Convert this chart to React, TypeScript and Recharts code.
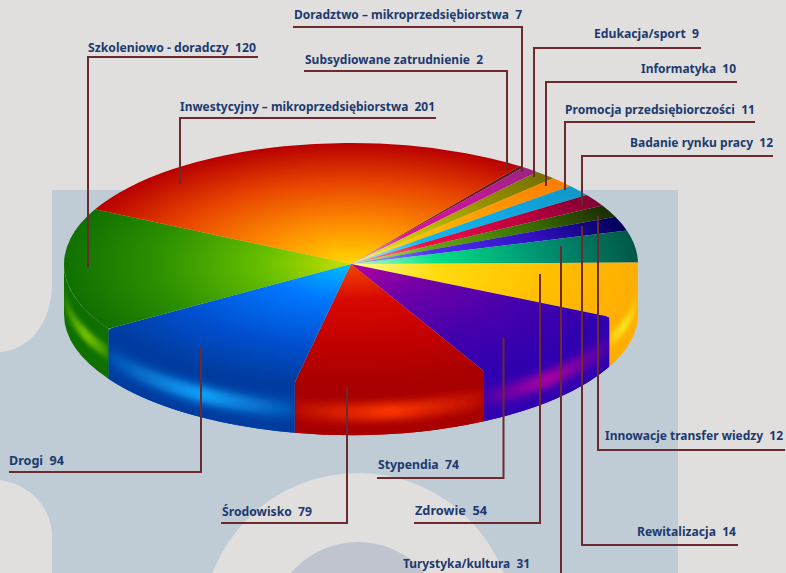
import React from 'react';
import { PieChart, Pie } from 'recharts';

const categories = [
  'Subsydiowane zatrudnienie',
  'Doradztwo – mikroprzedsiębiorstwa',
  'Edukacja/sport',
  'Informatyka',
  'Promocja przedsiębiorczości',
  'Badanie rynku pracy',
  'Innowacje transfer wiedzy',
  'Rewitalizacja',
  'Turystyka/kultura',
  'Zdrowie',
  'Stypendia',
  'Środowisko',
  'Drogi',
  'Szkoleniowo - doradczy',
  'Inwestycyjny – mikroprzedsiębiorstwa',
];
const values = [2, 7, 9, 10, 11, 12, 12, 14, 31, 54, 74, 79, 94, 120, 201];
const rows = categories.map((name, i) => ({ name, value: values[i] }));

// Radial colour stops of each slice, from the pie centre to the rim.
const faceColors: string[][] = [
  ['#a08060', '#803030', '#6a1c24', '#5a1820'],
  ['#f8c0e0', '#e010a0', '#c01898', '#9c2480'],
  ['#f0f080', '#c8c800', '#989000', '#747000'],
  ['#ffff80', '#ffc000', '#ff9800', '#ff7c00'],
  ['#c0f0ff', '#10b8f0', '#10a8e0', '#1098c8'],
  ['#ffb0a0', '#f01048', '#c00040', '#800034'],
  ['#d0f080', '#60a810', '#3c7000', '#1c2c00'],
  ['#b0b0ff', '#5030f0', '#3010c0', '#000058'],
  ['#c0ffd0', '#00e088', '#009070', '#005848'],
  ['#ffff90', '#ffdc10', '#ffc000', '#ffae00'],
  ['#b000a0', '#7000a8', '#4400ac', '#3000b0'],
  ['#f04800', '#d80800', '#c00000', '#a80000'],
  ['#00c0ff', '#0078ff', '#0050d0', '#003ca0'],
  ['#c8e000', '#68c000', '#2c9000', '#0f7000'],
  ['#ffd800', '#ff9400', '#e84400', '#b80000'],
];
const sideColors = ['#5a1820', '#9c2480', '#747000', '#ff7c00', '#1098c8', '#800034', '#1c2c00', '#000058', '#005848', '#ffae00', '#3400b0', '#c40000', '#0048c0', '#0f7000', '#b80000'];
const glowColors = ['', '', '', '', '', '', '', '', '', '#ffe820', '#b000a0', '#ff3800', '#10a8ff', '#78c400', ''];
const extruded = [false, false, false, false, false, false, false, false, false, false, true, true, true, false, false];

// Leader geometry: polyline points, text x, text right edge, baseline, font size.
const leaders: { pts: string; x: number; end: number; y: number; size: number }[] = [
  { pts: '304,71 507,71 507,169', x: 305, end: 483, y: 64, size: 12.8 },
  { pts: '293,27 522,27 522,172', x: 294, end: 522, y: 19, size: 12.8 },
  { pts: '701,48 534,48 534,177', x: 594, end: 699, y: 38, size: 12.8 },
  { pts: '737,82 546,82 546,186', x: 641, end: 736, y: 73, size: 12.8 },
  { pts: '755,122 565,122 565,190', x: 565, end: 755, y: 114, size: 12.8 },
  { pts: '773,156 582,156 582,205', x: 630, end: 773, y: 147, size: 12.8 },
  { pts: '785,450 598,450 598,216', x: 605, end: 783, y: 440, size: 12 },
  { pts: '738,545 582,545 582,226', x: 637, end: 736, y: 536, size: 12.8 },
  { pts: '561,573 561,246', x: 403, end: 530, y: 568, size: 12.8 },
  { pts: '414,523 540,523 540,274', x: 415, end: 487, y: 515, size: 12.8 },
  { pts: '377,478 503.5,478 503.5,338', x: 378, end: 459, y: 469, size: 12.8 },
  { pts: '221,523 347,523 347,387', x: 222, end: 312, y: 516, size: 12.8 },
  { pts: '9,472 201,472 201,347', x: 9, end: 64, y: 465, size: 12.8 },
  { pts: '258,57 88,57 88,267', x: 88, end: 256, y: 52, size: 12.8 },
  { pts: '436,118 180,118 180,184', x: 180, end: 435, y: 111, size: 12.8 },
];

const CX = 351;
const CY = 264;
const R = 287;
const K = 121 / 287;
const DEPTH = 50;

const pt = (deg: number, dy = 0): [number, number] => {
  const a = (deg * Math.PI) / 180;
  return [CX + R * Math.cos(a), CY - R * K * Math.sin(a) + dy];
};
const f = (p: [number, number]) => `${p[0].toFixed(2)} ${p[1].toFixed(2)}`;
const ry = R * K;

function arc(from: number, to: number, dy: number) {
  const large = Math.abs(from - to) > 180 ? 1 : 0;
  return `A ${R} ${ry} 0 ${large} 1 ${f(pt(to, dy))}`;
}
function arcBack(from: number, to: number, dy: number) {
  const large = Math.abs(from - to) > 180 ? 1 : 0;
  return `A ${R} ${ry} 0 ${large} 0 ${f(pt(to, dy))}`;
}
function ring(s: number, e: number, d0: number, d1: number) {
  return `M ${f(pt(s, d0))} ${arc(s, e, d0)} L ${f(pt(e, d1))} ${arcBack(e, s, d1)} Z`;
}

function Slice(props: any) {
  const i = categories.indexOf(props.name);
  const s: number = props.startAngle;
  const e: number = props.endAngle;
  const stops = faceColors[i];
  const vs = Math.min(s, 0);
  const ve = Math.max(e, -180);
  const hasSide = vs > ve;
  const gid = `face${i}`;
  const tr = `translate(${CX} ${CY}) scale(1 ${K}) translate(${-CX} ${-CY})`;
  const xs = hasSide ? [pt(vs)[0], pt(ve)[0]] : [0, 0];
  const x0 = Math.min(...xs);
  const x1 = Math.max(...xs);

  let facePath = `M ${CX} ${CY} L ${f(pt(s))} ${arc(s, e, 0)} Z`;
  if (extruded[i]) {
    const a = pt(s);
    const b = pt(e);
    const ra = 4;
    const dirA = [CX - a[0], CY - a[1]];
    const la = Math.hypot(dirA[0], dirA[1]);
    const dirB = [CX - b[0], CY - b[1]];
    const lb = Math.hypot(dirB[0], dirB[1]);
    facePath =
      `M ${CX} ${CY} L ${(a[0] + (dirA[0] / la) * ra).toFixed(2)} ${(a[1] + (dirA[1] / la) * ra).toFixed(2)} ` +
      `Q ${f(a)} ${a[0].toFixed(2)} ${(a[1] + ra).toFixed(2)} L ${f(pt(s, DEPTH))} ${arc(s, e, DEPTH)} ` +
      `L ${b[0].toFixed(2)} ${(b[1] + ra).toFixed(2)} Q ${f(b)} ${(b[0] + (dirB[0] / lb) * ra).toFixed(2)} ${(b[1] + (dirB[1] / lb) * ra).toFixed(2)} Z`;
  }
  const sidePath = hasSide ? ring(vs, ve, 0, DEPTH) : '';
  const edgeOpacity = extruded[i] ? 0.2 : 0.35;

  return (
    <g>
      <defs>
        <radialGradient id={gid} gradientUnits="userSpaceOnUse" cx={CX} cy={CY} r={R} gradientTransform={tr}>
          <stop offset="0" stopColor={stops[0]} />
          <stop offset="0.3" stopColor={stops[1]} />
          <stop offset="0.68" stopColor={stops[2]} />
          <stop offset="1" stopColor={stops[3]} />
        </radialGradient>
        {hasSide && (
          <clipPath id={`clip${i}`}>
            <path d={sidePath} />
          </clipPath>
        )}
        {hasSide && (
          <linearGradient id={`glow${i}`} gradientUnits="userSpaceOnUse" x1={x0} x2={x1} y1={0} y2={0}>
            <stop offset="0" stopColor={glowColors[i] || '#000'} stopOpacity={edgeOpacity} />
            <stop offset="0.5" stopColor={glowColors[i] || '#000'} stopOpacity={1} />
            <stop offset="1" stopColor={glowColors[i] || '#000'} stopOpacity={edgeOpacity} />
          </linearGradient>
        )}
        <filter id={`blur${i}`} x="-30%" y="-100%" width="160%" height="300%">
          <feGaussianBlur stdDeviation={extruded[i] ? 4 : 2.2} />
        </filter>
      </defs>
      {hasSide && <path d={sidePath} fill={sideColors[i]} />}
      <path d={facePath} fill={`url(#${gid})`} />
      {hasSide && glowColors[i] && (
        <g clipPath={`url(#clip${i})`}>
          <path d={ring(vs, ve, extruded[i] ? 19 : 18, extruded[i] ? 35 : 31)} fill={`url(#glow${i})`} filter={`url(#blur${i})`} />
        </g>
      )}
    </g>
  );
}

function Leader(props: any) {
  const i: number = props.index;
  const l = leaders[i];
  return (
    <g>
      <polyline points={l.pts} fill="none" stroke="#6b2a2e" strokeWidth={2} />
      <text
        x={l.x}
        y={l.y}
        textLength={l.end - l.x}
        lengthAdjust="spacingAndGlyphs"
        fontFamily="'Noto Sans', sans-serif"
        fontWeight={700}
        fontSize={l.size}
        fill="#1c3a6e"
      >
        {`${categories[i]}\u00a0\u00a0${values[i]}`}
      </text>
    </g>
  );
}

export default function App() {
  return (
    <div style={{ position: 'absolute', left: 0, top: 0, width: 786, height: 573, overflow: 'hidden', background: '#e1dfde' }}>
      <svg width={786} height={573} style={{ position: 'absolute', left: 0, top: 0 }}>
        <path
          d="M 52 190 L 678 190 L 678 573 L 52 573 L 52 533 C 50 505 28 484 0 480 L 0 352 C 28 350 52 325 52 283 Z"
          fill="#bfccd6"
        />
        <circle cx={358} cy={629} r={156} fill="#e1dfde" />
        <circle cx={358} cy={630} r={88} fill="#c0c4cf" />
      </svg>
      <div style={{ position: 'absolute', left: 0, top: 0 }}>
        <PieChart width={786} height={573} margin={{ top: 0, right: 0, bottom: 0, left: 0 }}>
          <Pie
            data={rows}
            dataKey="value"
            nameKey="name"
            cx={CX}
            cy={CY}
            innerRadius={0}
            outerRadius={R}
            startAngle={54}
            endAngle={-306}
            stroke="none"
            isAnimationActive={false}
            shape={Slice}
            label={Leader}
            labelLine={false}
          />
        </PieChart>
      </div>
    </div>
  );
}
